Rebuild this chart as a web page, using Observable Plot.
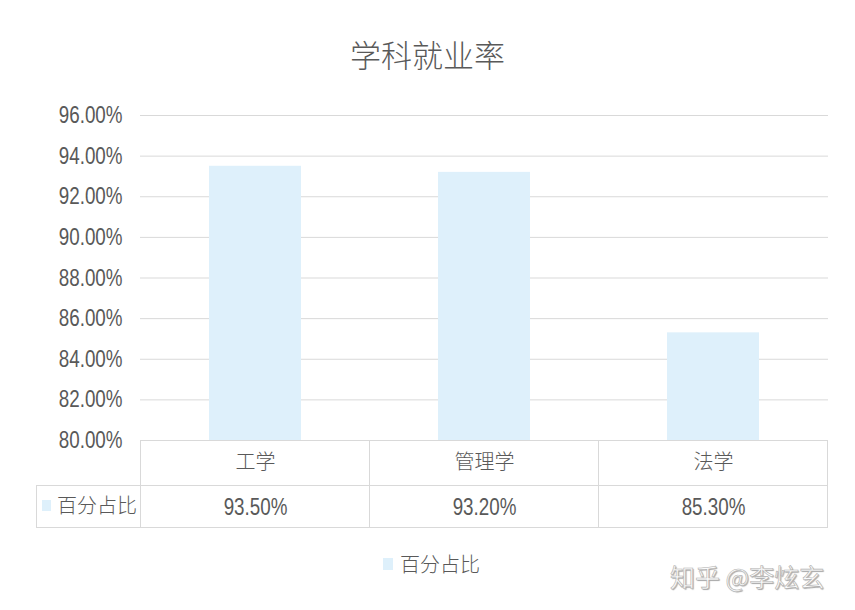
<!DOCTYPE html>
<html><head><meta charset="utf-8">
<script src="https://cdn.jsdelivr.net/npm/d3@7"></script>
<script src="https://cdn.jsdelivr.net/npm/@observablehq/plot@0.6"></script>
<style>
body{margin:0;background:#fff;}
#wrap{position:relative;width:855px;height:610px;overflow:hidden;background:#fff;}
#title{position:absolute;left:0;width:855px;top:37px;text-align:center;font-family:"Noto Sans CJK SC",sans-serif;font-weight:300;font-size:31px;color:#595959;line-height:34px;}
#chart{position:absolute;left:0;top:0;}
#legend{position:absolute;left:383px;top:550px;font-family:"Noto Sans CJK SC",sans-serif;font-weight:300;font-size:20px;color:#595959;display:flex;align-items:center;line-height:28px;}
#legend .sw{width:10px;height:12px;background:#def0fb;margin-right:7px;}
#wm{position:absolute;left:670px;top:561px;font-family:"Noto Sans CJK SC",sans-serif;font-size:25px;line-height:30px;color:#fbfbfb;-webkit-text-stroke:0.6px #b0b0b0;text-shadow:1px 1px 1px rgba(0,0,0,0.35);white-space:nowrap;}
</style></head>
<body>
<div id="wrap">
  <div id="chart"></div>
  <div id="title"></div>
  <div id="legend"><span class="sw"></span><span id="legtext"></span></div>
  <div id="wm"></div>
</div>
<script>
const chartTitle = "学科就业率";
const seriesName = "百分占比";
const categories = ["工学", "管理学", "法学"];
const values = [93.5, 93.2, 85.3];
const yTicks = [80, 82, 84, 86, 88, 90, 92, 94, 96];
const watermark = "知乎 @李炫玄";

const barColor = "#def0fb";
const textColor = "#595959";
const lineColor = "#d9d9d9";
const cjk = "Noto Sans CJK SC, sans-serif";
const numFont = "Liberation Sans, Arial, sans-serif";

const data = categories.map((c, i) => ({cat: c, value: values[i]}));
const pct = v => v.toFixed(2) + "%";

document.getElementById("title").textContent = chartTitle;
document.getElementById("legtext").textContent = seriesName;
document.getElementById("wm").textContent = watermark;

function tableMark(index, scales, vals, dims) {
  const x = scales.x;
  const {height, marginBottom} = dims;
  const bw = x.bandwidth ? x.bandwidth() : 0;
  const centers = categories.map(c => x(c) + bw / 2);
  const step = centers[1] - centers[0];
  const bounds = [centers[0] - step / 2, ...centers.map(c => c + step / 2)];
  const y0 = height - marginBottom, y1 = y0 + 45, y2 = y0 + 87;
  const xl = 36, xr = bounds[bounds.length - 1];
  const g = d3.create("svg:g");
  const ln = (a, b, c, d) => g.append("line").attr("x1", a).attr("y1", b).attr("x2", c).attr("y2", d)
    .attr("stroke", lineColor).attr("stroke-width", 1).attr("shape-rendering", "crispEdges");
  ln(bounds[0], y0, xr, y0);
  ln(xl, y1, xr, y1);
  ln(xl, y2, xr, y2);
  ln(xl, y1, xl, y2);
  bounds.forEach(b => ln(b, y0, b, y2));
  g.append("rect").attr("x", 42).attr("y", (y1 + y2) / 2 - 6).attr("width", 9).attr("height", 11).attr("fill", barColor);
  g.append("text").attr("x", 57).attr("y", (y1 + y2) / 2).attr("dy", "0.35em")
    .attr("text-anchor", "start")
    .attr("font-family", cjk).attr("font-weight", 300).attr("font-size", 20).attr("fill", textColor)
    .text(seriesName);
  return g.node();
}

const plot = Plot.plot({
  width: 855,
  height: 610,
  marginTop: 115,
  marginBottom: 170,
  marginLeft: 140,
  marginRight: 27,
  x: {domain: categories, paddingInner: 0.6, paddingOuter: 0.3, axis: null},
  y: {domain: [80, 96], axis: null},
  marks: [
    Plot.gridY(yTicks, {stroke: lineColor, strokeOpacity: 1}),
    Plot.barY(data, {x: "cat", y1: 80, y2: "value", fill: barColor}),
    Plot.axisY(yTicks, {label: null, tickSize: 0, tickPadding: 18, tickFormat: pct, fontSize: 23.5, fontFamily: numFont, color: textColor}),
    tableMark,
    Plot.text(data, {x: "cat", text: "cat", frameAnchor: "bottom", dy: 28, fontSize: 20, fontFamily: cjk, fontWeight: 300, fill: textColor}),
    Plot.text(data, {x: "cat", text: d => pct(d.value), frameAnchor: "bottom", dy: 74, fontSize: 23.5, fontFamily: numFont, fill: textColor})
  ]
});
// condense the numeric labels horizontally, like the narrow font in the reference
d3.select(plot).selectAll("text").each(function() {
  const t = this.textContent || "";
  if (!/%$/.test(t)) return;
  const tr = this.getAttribute("transform") || "";
  this.setAttribute("transform", (tr + " scale(0.8,1)").trim());
});
document.getElementById("chart").appendChild(plot);
</script>
</body></html>
